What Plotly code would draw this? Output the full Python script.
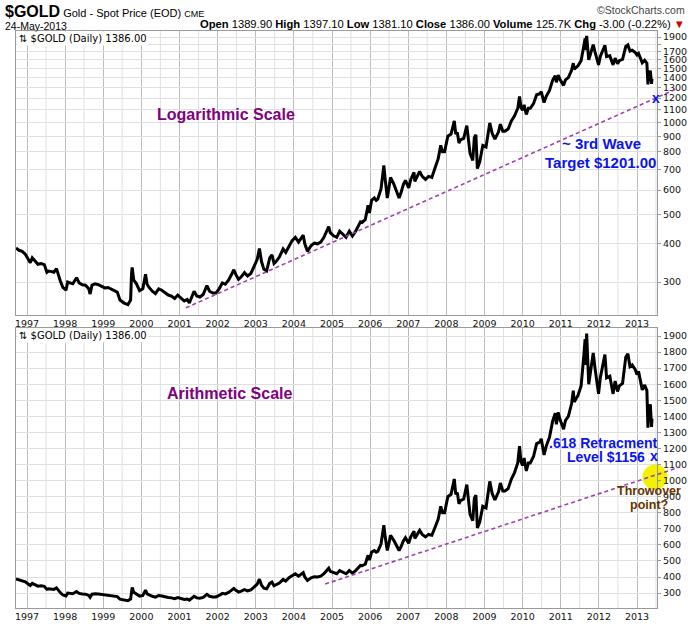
import math
from datetime import datetime
import plotly.graph_objects as go

# ---------------- data ----------------
dates = [
    "1996-09-17", "1996-10-15", "1996-11-15", "1996-12-15",
    "1997-01-15", "1997-02-01", "1997-02-20", "1997-03-15", "1997-04-15", "1997-05-15",
    "1997-06-15", "1997-07-10", "1997-07-25", "1997-08-15", "1997-09-15", "1997-10-10",
    "1997-10-30", "1997-11-15", "1997-12-10",
    "1998-01-09", "1998-01-25", "1998-02-15", "1998-03-15", "1998-04-20", "1998-05-15",
    "1998-06-15", "1998-07-15", "1998-08-15", "1998-08-28", "1998-09-15", "1998-10-15",
    "1998-11-15", "1998-12-15",
    "1999-01-15", "1999-02-15", "1999-03-15", "1999-04-15", "1999-05-15", "1999-06-10",
    "1999-07-20", "1999-08-25", "1999-09-20", "1999-09-29", "1999-10-05", "1999-10-20",
    "1999-11-15", "1999-12-15",
    "2000-01-15", "2000-02-10", "2000-02-25", "2000-03-15", "2000-04-15", "2000-05-15",
    "2000-06-15", "2000-07-15", "2000-08-15", "2000-09-15", "2000-10-15", "2000-11-15",
    "2000-12-15",
    "2001-01-15", "2001-02-15", "2001-03-15", "2001-04-05", "2001-05-20", "2001-06-15",
    "2001-07-15", "2001-08-15", "2001-09-20", "2001-10-15", "2001-11-15", "2001-12-15",
    "2002-01-15", "2002-02-15", "2002-03-15", "2002-04-15", "2002-05-15", "2002-06-05",
    "2002-06-25", "2002-07-20", "2002-08-15", "2002-09-15", "2002-10-15", "2002-11-15",
    "2002-12-15",
    "2003-01-15", "2003-02-05", "2003-02-25", "2003-03-20", "2003-04-15", "2003-05-15",
    "2003-06-05", "2003-06-25", "2003-07-15", "2003-08-15", "2003-09-20", "2003-10-15",
    "2003-11-15", "2003-12-15",
    "2004-01-15", "2004-02-15", "2004-03-31", "2004-04-15", "2004-05-10", "2004-06-15",
    "2004-07-15", "2004-08-15", "2004-09-15", "2004-10-15", "2004-11-30", "2004-12-15",
    "2005-01-15", "2005-02-15", "2005-03-15", "2005-04-15", "2005-05-15", "2005-06-15",
    "2005-07-15", "2005-08-15", "2005-09-30", "2005-10-15", "2005-11-15", "2005-12-12",
    "2005-12-25",
    "2006-01-15", "2006-02-10", "2006-02-28", "2006-03-15", "2006-04-15", "2006-05-12",
    "2006-05-25", "2006-06-14", "2006-06-30", "2006-07-15", "2006-08-15", "2006-09-15",
    "2006-10-05", "2006-10-25", "2006-11-15", "2006-12-05", "2006-12-25",
    "2007-01-05", "2007-01-25", "2007-02-25", "2007-03-05", "2007-03-25", "2007-04-20",
    "2007-05-15", "2007-06-15", "2007-07-15", "2007-08-15", "2007-09-15", "2007-10-15",
    "2007-11-08", "2007-11-25", "2007-12-15",
    "2008-01-15", "2008-02-15", "2008-03-17", "2008-03-31", "2008-04-15", "2008-05-01",
    "2008-05-15", "2008-06-15", "2008-07-15", "2008-08-15", "2008-09-10", "2008-09-25",
    "2008-10-10", "2008-10-24", "2008-11-15", "2008-12-15",
    "2009-01-15", "2009-02-20", "2009-03-15", "2009-04-10", "2009-05-15", "2009-06-01",
    "2009-06-25", "2009-07-15", "2009-08-15", "2009-09-15", "2009-10-15", "2009-11-15",
    "2009-12-02", "2009-12-15", "2009-12-31",
    "2010-01-15", "2010-02-05", "2010-02-25", "2010-03-15", "2010-04-15", "2010-05-15",
    "2010-06-15", "2010-06-28", "2010-07-25", "2010-08-15", "2010-09-15", "2010-10-15",
    "2010-11-09", "2010-11-20", "2010-12-07", "2010-12-25",
    "2011-01-28", "2011-02-15", "2011-03-15", "2011-04-15", "2011-05-01", "2011-05-10",
    "2011-06-15", "2011-07-15", "2011-08-10", "2011-08-22", "2011-08-25", "2011-09-06",
    "2011-09-26", "2011-10-15", "2011-11-08", "2011-11-25", "2011-12-29",
    "2012-01-15", "2012-02-28", "2012-03-15", "2012-04-15", "2012-05-16", "2012-06-05",
    "2012-06-28", "2012-07-15", "2012-08-15", "2012-09-15", "2012-10-05", "2012-10-25",
    "2012-11-15", "2012-12-15", "2012-12-31",
    "2013-01-15", "2013-02-20", "2013-03-15", "2013-04-05", "2013-04-15", "2013-04-20",
    "2013-05-08", "2013-05-20", "2013-05-24",
]
prices = [
    388, 381, 378, 370,
    355, 347, 360, 352, 343, 345,
    342, 323, 326, 325, 323, 332,
    312, 303, 288,
    282, 300, 298, 296, 310, 298,
    294, 293, 285, 274, 293, 296,
    294, 291,
    287, 288, 285, 282, 278, 262,
    256, 253, 262, 320, 335, 305,
    296, 281,
    285, 318, 295, 288, 280, 275,
    285, 282, 276, 272, 270, 265,
    272,
    266, 260, 263, 256, 280, 270,
    268, 273, 292, 280, 276, 276,
    285, 298, 295, 304, 318, 329,
    317, 306, 312, 322, 314, 320,
    337,
    356, 386, 350, 330, 326, 360,
    368, 345, 350, 362, 385, 375,
    395, 410,
    420, 405, 427, 400, 378, 395,
    402, 400, 405, 420, 455, 435,
    425, 420, 440, 428, 420, 440,
    424, 440, 472, 470, 480, 535,
    505,
    555, 565, 555, 560, 605, 722,
    650, 565, 610, 660, 628, 590,
    565, 590, 625, 645, 625,
    610, 650, 685, 640, 660, 690,
    665, 650, 665, 660, 710, 760,
    840, 800, 800,
    900, 915, 1010, 915, 925, 855,
    875, 885, 975, 790, 750, 890,
    910, 705, 740, 840,
    830, 995, 920, 880, 930, 985,
    935, 935, 950, 1010, 1050, 1110,
    1215, 1120, 1095,
    1140, 1060, 1110, 1110, 1150, 1230,
    1240, 1260, 1160, 1215, 1270, 1370,
    1420, 1350, 1425, 1380,
    1320, 1375, 1400, 1480, 1560, 1490,
    1530, 1590, 1780, 1880, 1720, 1915,
    1600, 1680, 1795, 1700, 1540,
    1640, 1785, 1640, 1650, 1540, 1620,
    1555, 1590, 1605, 1770, 1790, 1710,
    1720, 1690, 1660,
    1680, 1565, 1595, 1560, 1330, 1400,
    1475, 1335, 1386,
]

year_ticks = list(range(1997, 2014))
year_labels = [str(y) for y in year_ticks]
mid_years = list(range(1996, 2014))
price_ticks = list(range(300, 2000, 100))
log_tick_labels = ["" if v == 1800 else str(v) for v in price_ticks]
lin_tick_labels = [str(v) for v in price_ticks]

# trend lines (date, price) pairs
top_trend = [("2001-03-03", 247), ("2014-01-20", 1289)]
bot_trend = [("2004-10-27", 356), ("2014-02-17", 1085)]
top_target = ("2013-07-01", 1201)
bot_target = ("2013-06-13", 1156)
throwover_pt = ("2013-06-22", 1022)

# ---------------- layout geometry ----------------
W, H = 700, 624
ML, MR, MT, MB = 16, 43, 31, 16
PH = H - MT - MB
x_range = ["1996-09-17", "2013-07-11"]
top_dom = [(H - MB - 315) / PH, 1.0]
bot_dom = [0.0, (H - MB - 328) / PH]
log_lo, log_hi = math.log10(234), math.log10(1988)
lin_lo, lin_hi = 207, 1950

FONT_AX = "DejaVu Sans"
GRID_MAJOR = "#bcbcbc"
GRID_MINOR = "#e0e0e0"
FRAME = "#9a9a9a"
TREND = "#a040b0"


def dnum(s):
    return datetime.strptime(s, "%Y-%m-%d").timestamp()


def xpaper(s):
    a, b = dnum(x_range[0]), dnum(x_range[1])
    return (dnum(s) - a) / (b - a)


def ypaper_log(p):
    f = (math.log10(p) - log_lo) / (log_hi - log_lo)
    return top_dom[0] + f * (top_dom[1] - top_dom[0])


def ypaper_lin(p):
    f = (p - lin_lo) / (lin_hi - lin_lo)
    return bot_dom[0] + f * (bot_dom[1] - bot_dom[0])


fig = go.Figure()
fig.add_trace(go.Scatter(x=dates, y=prices, mode="lines", xaxis="x", yaxis="y",
                         line=dict(color="black", width=3), hoverinfo="skip"))
fig.add_trace(go.Scatter(x=dates, y=prices, mode="lines", xaxis="x2", yaxis="y2",
                         line=dict(color="black", width=3), hoverinfo="skip"))
fig.add_trace(go.Scatter(x=[throwover_pt[0]], y=[throwover_pt[1]], mode="markers",
                         xaxis="x2", yaxis="y2", cliponaxis=False,
                         marker=dict(size=25, color="#f2f200", line=dict(width=0)),
                         hoverinfo="skip"))

xcommon = dict(
    type="date", range=x_range, tickmode="array",
    tickvals=[f"{y}-01-01" for y in year_ticks], ticktext=year_labels,
    showgrid=True, gridcolor=GRID_MAJOR, gridwidth=1,
    showline=True, mirror=True, linecolor=FRAME, linewidth=1,
    ticks="", zeroline=False, automargin=False,
    tickfont=dict(family=FONT_AX, size=9.5, color="#111"),
    fixedrange=True,
)
ycommon = dict(
    side="right", tickmode="array", tickvals=price_ticks,
    showgrid=True, gridcolor=GRID_MINOR, gridwidth=1,
    showline=True, mirror=True, linecolor=FRAME, linewidth=1,
    ticks="outside", ticklen=3, tickcolor=FRAME, zeroline=False, automargin=False,
    tickfont=dict(family=FONT_AX, size=9.5, color="#111"),
    fixedrange=True,
)

fig.update_layout(
    template="none",
    width=W, height=H, autosize=False,
    margin=dict(l=ML, r=MR, t=MT, b=MB, pad=0, autoexpand=False),
    paper_bgcolor="white", plot_bgcolor="white",
    showlegend=False,
    xaxis=dict(domain=[0, 1], anchor="y", **xcommon),
    xaxis2=dict(domain=[0, 1], anchor="y2", **xcommon),
    yaxis=dict(domain=top_dom, anchor="x", type="log", range=[log_lo, log_hi],
               ticktext=log_tick_labels, **ycommon),
    yaxis2=dict(domain=bot_dom, anchor="x2", type="linear", range=[lin_lo, lin_hi],
                ticktext=lin_tick_labels, **ycommon),
)

shapes = []
# mid-year light grid lines (layout decoration)
for y in mid_years:
    for xr, yr in (("x", "y domain"), ("x2", "y2 domain")):
        shapes.append(dict(type="line", xref=xr, yref=yr, x0=f"{y}-07-01", x1=f"{y}-07-01",
                           y0=0, y1=1, line=dict(color=GRID_MINOR, width=1), layer="below"))
# trend lines drawn in paper space so they can run past the right edge
(d0, p0), (d1, p1) = top_trend
shapes.append(dict(type="line", xref="paper", yref="paper",
                   x0=xpaper(d0), y0=ypaper_log(p0), x1=xpaper(d1), y1=ypaper_log(p1),
                   line=dict(color=TREND, width=1.6, dash="4px,3px"), layer="above"))
(d0, p0), (d1, p1) = bot_trend
shapes.append(dict(type="line", xref="paper", yref="paper",
                   x0=xpaper(d0), y0=ypaper_lin(p0), x1=xpaper(d1), y1=ypaper_lin(p1),
                   line=dict(color=TREND, width=1.6, dash="4px,3px"), layer="above"))
fig.update_layout(shapes=shapes)

ann = []
HEAD = "Liberation Sans Narrow, Arial Narrow, Liberation Sans, Arial"
REG = "Liberation Sans, Arial"


def pxx(px):
    return (px - ML) / (W - ML - MR)


def pxy(py):
    return (H - MB - py) / PH


ann.append(dict(xref="paper", yref="paper", x=pxx(3), y=pxy(11), xanchor="left", yanchor="middle",
                showarrow=False, font=dict(family=HEAD, size=11, color="#000"),
                text="<span style='font-size:16px'><b>$GOLD</b></span> Gold - Spot Price (EOD) "
                     "<span style='font-size:9px'>CME</span>"))
ann.append(dict(xref="paper", yref="paper", x=pxx(687), y=pxy(10), xanchor="right", yanchor="middle",
                showarrow=False, font=dict(family=REG, size=10.5, color="#444"),
                text="©StockCharts.com"))
ann.append(dict(xref="paper", yref="paper", x=pxx(3), y=pxy(26), xanchor="left", yanchor="middle",
                showarrow=False, font=dict(family=REG, size=10.5, color="#000"),
                text="24-May-2013"))
ann.append(dict(xref="paper", yref="paper", x=pxx(687), y=pxy(24), xanchor="right", yanchor="middle",
                showarrow=False, font=dict(family=HEAD, size=11.2, color="#000"),
                text="<b>Open</b> 1389.90 <b>High</b> 1397.10 <b>Low</b> 1381.10 "
                     "<b>Close</b> 1386.00 <b>Volume</b> 125.7K <b>Chg</b> -3.00 (-0.22%) "
                     "<span style='color:#cc0000'>▼</span>"))

for dom in (top_dom, bot_dom):
    ann.append(dict(xref="paper", yref="paper", x=pxx(17), y=dom[1], xanchor="left", yanchor="top",
                    showarrow=False, bgcolor="white", borderpad=1,
                    font=dict(family=FONT_AX, size=10, color="#000"),
                    text="⇅ $GOLD (Daily) 1386.00"))

PURPLE = "#800080"
BLUE = "#0a14f0"
BROWN = "#663300"


def txt(xr, yr, x, y, s, size, color):
    return dict(xref=xr, yref=yr, x=x, y=y, showarrow=False, align="center",
                font=dict(family=REG, size=size, color=color), text=f"<b>{s}</b>")


ann.append(txt("x", "y", "2002-03-20", math.log10(1056), "Logarithmic Scale", 16, PURPLE))
ann.append(txt("x2", "y2", "2002-04-20", 1545, "Arithmetic Scale", 16, PURPLE))
ann.append(txt("x", "y", "2012-01-22", math.log10(854), "~ 3rd Wave", 15, BLUE))
ann.append(txt("x", "y", "2012-01-12", math.log10(741), "Target $1201.00", 15, BLUE))
ann.append(txt("x2", "y2", "2012-02-10", 1234, ".618 Retracment", 14, BLUE))
ann.append(txt("x2", "y2", "2012-03-10", 1147, "Level $1156", 14, BLUE))
ann.append(txt("x2", "y2", "2013-04-27", 938, "Throwover", 12.5, BROWN))
ann.append(txt("x2", "y2", "2013-04-27", 850, "point?", 12.5, BROWN))
ann.append(txt("x", "y", top_target[0], math.log10(top_target[1]), "x", 14, BLUE))
ann.append(txt("x2", "y2", bot_target[0], bot_target[1], "x", 14, BLUE))
fig.update_layout(annotations=ann)

fig.write_html("out.html", include_plotlyjs=True, config={"displayModeBar": False})
